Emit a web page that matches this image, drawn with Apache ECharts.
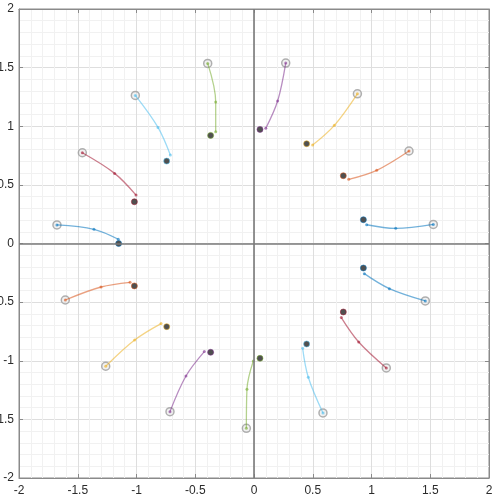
<!DOCTYPE html>
<html>
<head>
<meta charset="utf-8">
<script src="https://cdn.jsdelivr.net/npm/echarts@6/dist/echarts.min.js"></script>
<style>
  html, body { margin: 0; padding: 0; background: #fff; }
  #chart { width: 493px; height: 501px; }
</style>
</head>
<body>
<div id="chart"></div>
<script>
// trajectories, counter-clockwise from the right
var startX = [1.526, 1.319, 0.880, 0.270, -0.394, -1.010, -1.461, -1.677, -1.606, -1.262, -0.715, -0.065, 0.587, 1.126, 1.458]
var startY = [0.163, 0.789, 1.277, 1.539, 1.536, 1.263, 0.774, 0.158, -0.482, -1.047, -1.434, -1.576, -1.445, -1.061, -0.490]
var midX = [1.206, 1.044, 0.684, 0.201, -0.326, -0.817, -1.186, -1.362, -1.302, -1.016, -0.579, -0.060, 0.462, 0.891, 1.152]
var midY = [0.129, 0.624, 1.008, 1.215, 1.206, 0.990, 0.598, 0.121, -0.371, -0.823, -1.130, -1.243, -1.141, -0.840, -0.385]
var lastX = [0.959, 0.806, 0.499, 0.100, -0.326, -0.712, -1.004, -1.155, -1.055, -0.791, -0.423, -0.006, 0.414, 0.743, 0.939]
var lastY = [0.160, 0.547, 0.840, 0.982, 0.953, 0.754, 0.413, 0.036, -0.331, -0.683, -0.922, -1.002, -0.894, -0.632, -0.257]
var goalX = [0.931, 0.760, 0.448, 0.051, -0.369, -0.743, -1.018, -1.152, -1.018, -0.743, -0.369, 0.051, 0.448, 0.760, 0.931]
var goalY = [0.203, 0.578, 0.851, 0.973, 0.922, 0.703, 0.356, 0.000, -0.362, -0.709, -0.928, -0.979, -0.857, -0.584, -0.209]

var colors = ['#0072BD', '#D95319', '#EDB120', '#7E2F8E', '#77AC30', '#4DBEEE', '#A2142F']

var chart = echarts.init(document.getElementById('chart'))

var seriesList = []
startX.forEach(function (sx, i) {
  var c = colors[i % colors.length]
  // start ring
  seriesList.push({
    type: 'scatter',
    symbol: 'circle',
    symbolSize: 8,
    itemStyle: { color: 'rgba(225,225,225,0.6)', borderColor: '#9c9c9c', borderWidth: 1.5 },
    z: 2,
    data: [[sx, startY[i]]]
  })
  seriesList.push({
    type: 'line',
    smooth: 0.35,
    symbol: 'circle',
    symbolSize: 3,
    lineStyle: { color: c, width: 1.3, opacity: 0.55 },
    itemStyle: { color: c, opacity: 0.6 },
    z: 3,
    data: [
      [sx, startY[i]],
      [midX[i], midY[i]],
      [lastX[i], lastY[i]]
    ]
  })
  // goal dot
  seriesList.push({
    type: 'scatter',
    symbol: 'circle',
    symbolSize: 6,
    itemStyle: { color: '#3d3d3d', borderColor: c, borderWidth: 0.6, opacity: 0.9 },
    z: 4,
    data: [[goalX[i], goalY[i]]]
  })
})

// zero lines
seriesList.push({
  type: 'line',
  data: [],
  markLine: {
    silent: true,
    symbol: 'none',
    label: { show: false },
    lineStyle: { color: '#7a7a7a', width: 1.6, type: 'solid' },
    data: [{ xAxis: 0 }, { yAxis: 0 }]
  }
})

var axisCommon = {
  type: 'value',
  min: -2,
  max: 2,
  interval: 0.5,
  axisLine: { onZero: false, lineStyle: { color: '#8a8a8a' } },
  axisTick: { inside: true, length: 4, lineStyle: { color: '#8a8a8a' } },
  minorTick: { show: false, splitNumber: 5 },
  minorSplitLine: { show: true, lineStyle: { color: '#f1f1f1' } },
  splitLine: { show: true, lineStyle: { color: '#dedede' } },
  axisLabel: { color: '#2b2b2b', fontSize: 12, fontFamily: 'Liberation Sans' }
}

function axis(extra) {
  return Object.assign({}, axisCommon, extra)
}

chart.setOption({
  animation: false,
  backgroundColor: '#fff',
  grid: {
    left: 19,
    right: 4,
    top: 9,
    bottom: 23,
    outerBoundsMode: 'none',
    containLabel: false,
    show: true,
    borderColor: '#8a8a8a',
    borderWidth: 1
  },
  xAxis: [
    axis({ position: 'bottom', axisLabel: Object.assign({}, axisCommon.axisLabel, { margin: 7 }) }),
    axis({ position: 'top', axisLabel: { show: false }, splitLine: { show: false }, minorSplitLine: { show: false } })
  ],
  yAxis: [
    axis({ position: 'left', axisLabel: Object.assign({}, axisCommon.axisLabel, { margin: 5 }) }),
    axis({ position: 'right', axisLabel: { show: false }, splitLine: { show: false }, minorSplitLine: { show: false } })
  ],
  series: seriesList
})
</script>
</body>
</html>
